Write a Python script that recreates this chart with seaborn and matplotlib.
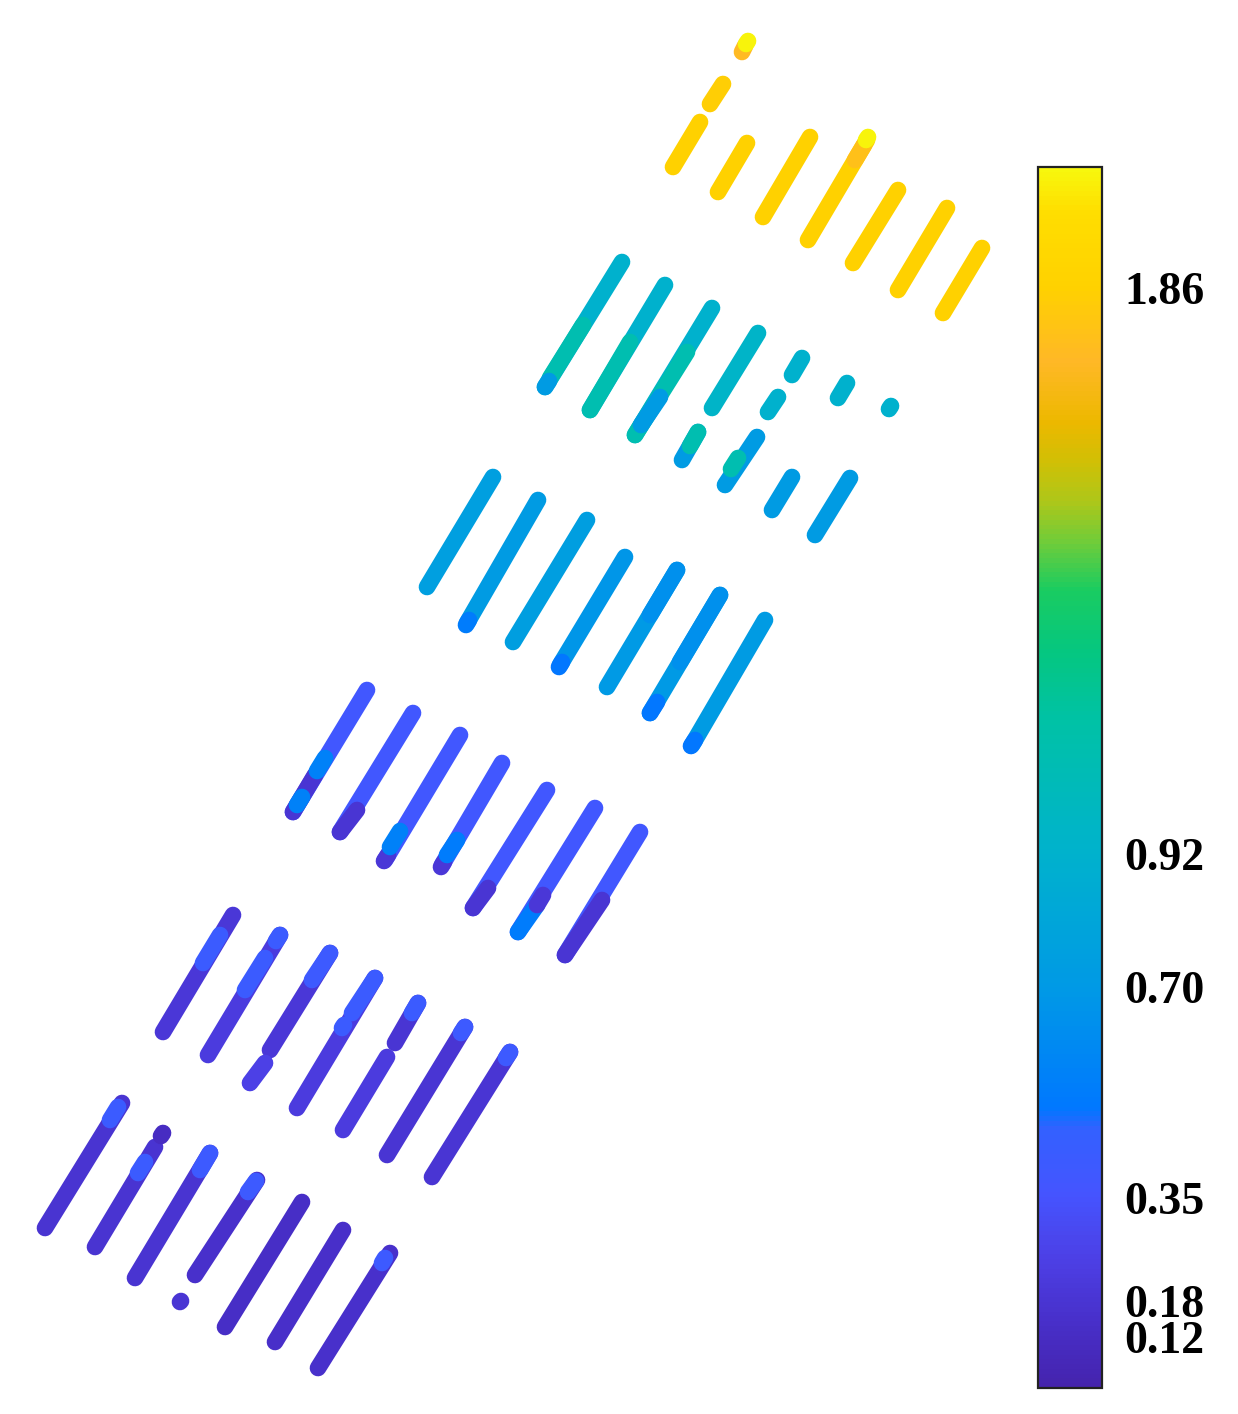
import matplotlib
matplotlib.use("Agg")
import matplotlib.pyplot as plt
import pandas as pd
import seaborn as sns
from matplotlib.cm import ScalarMappable
from matplotlib.colors import LinearSegmentedColormap, Normalize

# strokes: start (lower end), end (upper end), value
# later rows are drawn over earlier ones (patches of a different value)
x_start = [
    # top group
    742, 746, 710, 673, 718, 763, 808, 855, 866, 853, 898, 943,
    # second group
    545, 550, 545, 590, 590, 635, 635, 641, 712, 792, 768, 838, 889,
    682, 690, 725, 731, 772, 815,
    # third group
    427, 467, 466, 513, 560, 559, 607, 650, 650, 680, 650, 692, 691,
    # fourth group
    293, 293, 297, 317, 340, 340, 385, 384, 390, 442, 441, 447,
    473, 473, 518, 518, 537, 565, 565,
    # fifth group
    163, 203, 208, 245, 276, 270, 312, 250, 297, 352, 342, 395, 412,
    343, 387, 461, 432, 506,
    # bottom group
    45, 110, 95, 138, 161, 135, 200, 195, 248, 180, 225, 275, 318, 382,
]
y_start = [
    52, 44, 104, 167, 192, 217, 240, 160, 140, 263, 290, 313,
    387, 378, 387, 410, 410, 435, 435, 425, 408, 375, 412, 398, 409,
    460, 446, 485, 469, 510, 535,
    587, 623, 625, 642, 665, 667, 687, 615, 713, 662, 713, 745, 746,
    812, 812, 805, 771, 832, 832, 860, 861, 847, 865, 867, 855,
    908, 908, 932, 932, 905, 955, 955,
    1032, 963, 1055, 990, 941, 1050, 980, 1083, 1108, 1013, 1028, 1043, 1013,
    1130, 1155, 1033, 1177, 1058,
    1228, 1120, 1247, 1173, 1136, 1278, 1170, 1275, 1192, 1302, 1327, 1342, 1368, 1263,
]
x_end = [
    745, 748, 723, 700, 747, 810, 867, 864, 868, 898, 947, 982,
    622, 583, 549, 665, 630, 712, 687, 660, 758, 802, 778, 847, 891,
    698, 698, 757, 738, 792, 850,
    493, 538, 469, 587, 625, 562, 677, 677, 720, 720, 657, 765, 695,
    367, 315, 302, 325, 413, 357, 460, 388, 400, 502, 444, 457,
    547, 488, 595, 537, 543, 640, 602,
    233, 220, 280, 265, 280, 330, 330, 265, 375, 375, 344, 418, 418,
    387, 465, 465, 510, 510,
    122, 118, 155, 145, 163, 210, 210, 257, 256, 181, 302, 343, 390, 385,
]
y_end = [
    46, 41, 84, 122, 143, 137, 140, 145, 137, 190, 208, 248,
    262, 325, 381, 285, 342, 308, 352, 397, 333, 358, 397, 383, 406,
    432, 432, 437, 458, 477, 478,
    477, 500, 620, 520, 557, 662, 570, 570, 595, 595, 702, 620, 740,
    690, 775, 797, 758, 713, 810, 735, 855, 831, 763, 862, 840,
    790, 888, 808, 905, 895, 832, 900,
    915, 935, 935, 958, 935, 953, 953, 1063, 978, 978, 1025, 1003, 1003,
    1057, 1027, 1027, 1052, 1052,
    1103, 1107, 1147, 1162, 1133, 1153, 1153, 1180, 1181, 1301, 1202, 1230, 1253, 1258,
]
value = [
    1.75, 2.05, 1.84, 1.86, 1.86, 1.86, 1.86, 1.78, 2.05, 1.86, 1.86, 1.86,
    0.92, 1.08, 0.72, 0.92, 1.08, 0.92, 1.08, 0.72, 0.95, 0.92, 0.92, 0.92, 0.92,
    0.72, 1.08, 0.72, 1.08, 0.72, 0.72,
    0.75, 0.72, 0.52, 0.74, 0.68, 0.50, 0.70, 0.64, 0.70, 0.64, 0.50, 0.72, 0.50,
    0.38, 0.18, 0.55, 0.55, 0.38, 0.18, 0.38, 0.20, 0.55, 0.38, 0.20, 0.52,
    0.38, 0.18, 0.38, 0.52, 0.20, 0.38, 0.18,
    0.20, 0.42, 0.22, 0.42, 0.42, 0.20, 0.40, 0.25, 0.22, 0.42, 0.42, 0.18, 0.42,
    0.22, 0.18, 0.40, 0.18, 0.40,
    0.17, 0.42, 0.17, 0.42, 0.12, 0.17, 0.40, 0.15, 0.40, 0.18, 0.13, 0.14, 0.15, 0.40,
]

cbar_ticks = [0.12, 0.18, 0.35, 0.70, 0.92, 1.86]
vmin, vmax = 0.035, 2.06

# parula-like colour ramp sampled from the reference colour bar
ramp = [
    (0.000, (0.27, 0.14, 0.68)),
    (0.048, (0.28, 0.18, 0.78)),
    (0.105, (0.30, 0.25, 0.90)),
    (0.158, (0.27, 0.33, 1.00)),
    (0.211, (0.20, 0.38, 1.00)),
    (0.228, (0.00, 0.47, 1.00)),
    (0.326, (0.00, 0.60, 0.90)),
    (0.441, (0.00, 0.70, 0.80)),
    (0.547, (0.00, 0.76, 0.65)),
    (0.604, (0.02, 0.78, 0.50)),
    (0.654, (0.10, 0.80, 0.38)),
    (0.695, (0.45, 0.80, 0.22)),
    (0.727, (0.68, 0.78, 0.10)),
    (0.760, (0.82, 0.75, 0.02)),
    (0.793, (0.93, 0.72, 0.00)),
    (0.842, (1.00, 0.72, 0.15)),
    (0.902, (1.00, 0.82, 0.00)),
    (0.965, (1.00, 0.87, 0.00)),
    (1.000, (0.97, 0.97, 0.05)),
]
cmap = LinearSegmentedColormap.from_list("parula_like", ramp)
norm = Normalize(vmin=vmin, vmax=vmax)

sns.set_theme(style="white")
plt.rcParams["font.family"] = ["Liberation Serif", "DejaVu Serif"]
plt.rcParams["font.weight"] = "bold"

fig = plt.figure(figsize=(12.38, 14.14), dpi=100)
ax = fig.add_axes([0, 0, 1, 1])

strokes = pd.DataFrame({
    "x0": x_start, "y0": y_start, "x1": x_end, "y1": y_end, "value": value,
})
for row in strokes.itertuples():
    sns.lineplot(
        x=[row.x0, row.x1],
        y=[row.y0, row.y1],
        ax=ax,
        color=cmap(norm(row.value)),
        linewidth=12,
        solid_capstyle="round",
        sort=False,
        estimator=None,
        legend=False,
    )

ax.set_xlim(0, 1238)
ax.set_ylim(1414, 0)
ax.axis("off")

cax = fig.add_axes([1038 / 1238, 26 / 1414, 64 / 1238, 1221 / 1414])
sm = ScalarMappable(norm=norm, cmap=cmap)
cbar = fig.colorbar(sm, cax=cax, ticks=cbar_ticks)
cbar.ax.set_yticklabels([f"{t:.2f}" for t in cbar_ticks])
cbar.outline.set_linewidth(1.6)
cbar.outline.set_edgecolor("#222222")
cax.tick_params(axis="y", direction="in", length=6, width=1.5,
                labelsize=33, pad=16, colors="black")
for label in cax.get_yticklabels():
    label.set_fontweight("bold")

fig.savefig("out.png", dpi=100, facecolor="white")
